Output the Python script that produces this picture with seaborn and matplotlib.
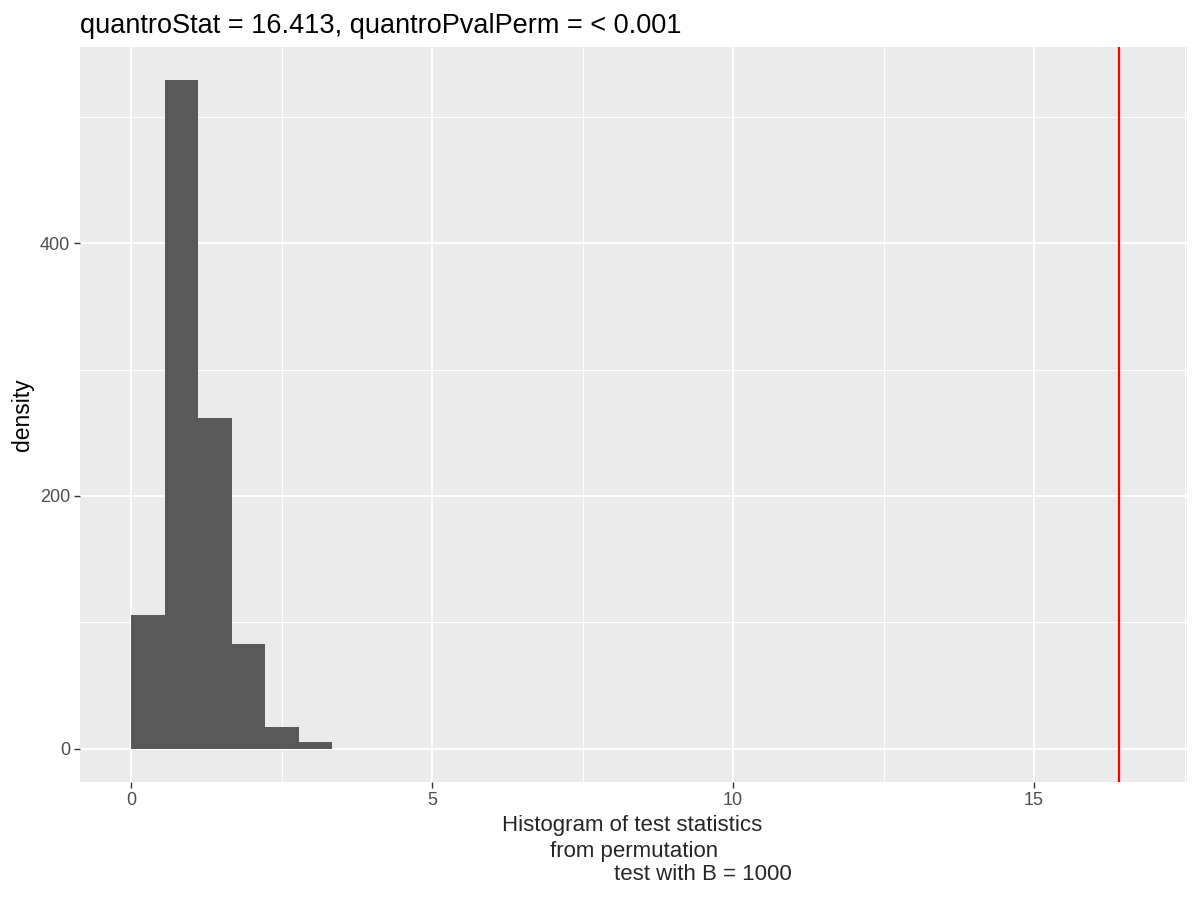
import pandas as pd
import matplotlib
matplotlib.use("Agg")
import matplotlib.pyplot as plt
import seaborn as sns

# histogram of permutation test statistics (counts)
bin_width = 0.557
bin_edges = [round(i * bin_width, 3) for i in range(7)]
bin_counts = [106, 529, 262, 83, 17, 5]
quantro_stat = 16.413
title_text = "quantroStat = 16.413, quantroPvalPerm = < 0.001"
xlabel_lines = ["Histogram of test statistics", "from permutation", "test with B = 1000"]

mids = [(a + b) / 2 for a, b in zip(bin_edges[:-1], bin_edges[1:])]
df = pd.DataFrame({"stat": mids, "count": bin_counts})

sns.set_theme(style="darkgrid", rc={
    "axes.facecolor": "#EBEBEB",
    "grid.color": "white",
})
plt.rcParams["font.family"] = ["Liberation Sans", "DejaVu Sans"]

fig = plt.figure(figsize=(12, 9), dpi=100)
ax = fig.add_axes([80 / 1200, 1 - 782 / 900, 1107 / 1200, 735 / 900])

sns.histplot(data=df, x="stat", weights="count", bins=bin_edges, color="#595959",
             alpha=1, edgecolor="none", linewidth=0, ax=ax)
ax.axvline(quantro_stat, color="#FF0000", lw=1.6)

ax.set_xlim(-0.85, 17.54)
ax.set_ylim(-26.5, 555.5)
ax.set_xticks([0, 5, 10, 15])
ax.set_yticks([0, 200, 400])
ax.set_xticks([2.5, 7.5, 12.5, 17.5], minor=True)
ax.set_yticks([100, 300, 500], minor=True)
ax.grid(which="major", color="white", lw=1.4)
ax.grid(which="minor", color="white", lw=0.7)
ax.set_axisbelow(True)
for s in ax.spines.values():
    s.set_visible(False)
ax.tick_params(axis="both", which="major", length=4, width=1, color="#333333",
               labelcolor="#4D4D4D", labelsize=13, pad=3, bottom=True, left=True)
ax.tick_params(axis="both", which="minor", length=0)

ax.set_ylabel("density", fontsize=16.5, color="black", labelpad=4)
ax.set_xlabel("")
ax.set_title(title_text, loc="left", fontsize=19.5, color="black", pad=10)

# three-line x label, last line shifted like the original
fig.text(632 / 1200, 1 - 826 / 900, xlabel_lines[0], ha="center", va="center", fontsize=16)
fig.text(634 / 1200, 1 - 851 / 900, xlabel_lines[1], ha="center", va="center", fontsize=16)
fig.text(703 / 1200, 1 - 875 / 900, xlabel_lines[2], ha="center", va="center", fontsize=16)

fig.savefig("out.png", dpi=100)
